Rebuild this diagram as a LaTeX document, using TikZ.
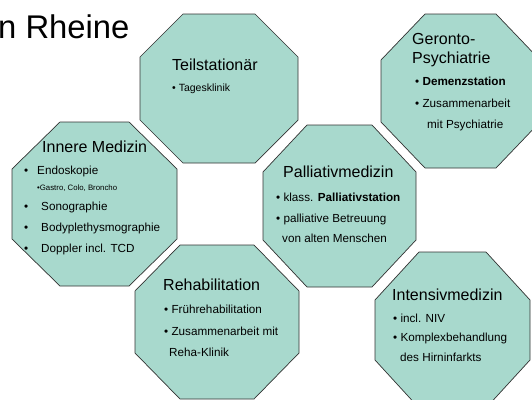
\documentclass[tikz,border=0pt]{standalone}
\usepackage{fontspec}
\setmainfont{Liberation Sans}
\usepackage{tikz}

\definecolor{octfill}{RGB}{168,217,205}
\definecolor{octline}{RGB}{50,50,50}

% octagon: x1, y1, x2, y2, chamfer x, chamfer y
\newcommand{\octbox}[6]{%
  \draw[octa] ({#1},{#2+#6}) -- ({#1+#5},{#2}) -- ({#3-#5},{#2}) -- ({#3},{#2+#6})
    -- ({#3},{#4-#6}) -- ({#3-#5},{#4}) -- ({#1+#5},{#4}) -- ({#1},{#4-#6}) -- cycle;}

\begin{document}
\begin{tikzpicture}[x=1pt,y=-1pt,
  octa/.style={fill=octfill,draw=octline,line width=0.7pt},
  every node/.style={inner sep=0pt,anchor=base west},
  title/.style={font=\fontsize{32.8}{36}\selectfont},
  head/.style={font=\fontsize{16}{19}\selectfont},
  item/.style={font=\fontsize{11.7}{14}\selectfont},
  smallitem/.style={font=\fontsize{10.5}{12.5}\selectfont},
  tinyitem/.style={font=\fontsize{7.8}{9.5}\selectfont}]
  \useasboundingbox (0,0) rectangle (532,399);
  \clip (0,0) rectangle (532,399);

  \node[title] (title) at (-2,38) {n Rheine};

  \octbox{140}{14}{298}{163}{43}{43}
  \octbox{381}{14}{540}{168}{44}{46}
  \octbox{12}{122}{177}{286}{48}{47}
  \octbox{263}{125}{416}{287}{44}{47}
  \octbox{135}{245}{299}{399}{45}{46}
  \octbox{375}{252}{530}{408}{44}{48}

  % Teilstationaer
  \node[head] (teilHead) at (172,70) {Teilstationär};
  \node[smallitem] (teilA) at (172,91) {• Tagesklinik};

  % Geronto-Psychiatrie
  \node[head] (geroHead) at (412,44) {Geronto-};
  \node[head] (geroHeadB) at (412,63) {Psychiatrie};
  \node[item] (geroA) at (415,85) {• \textbf{Demenzstation}};
  \node[item] (geroB) at (415,107) {• Zusammenarbeit};
  \node[item] (geroC) at (427,128) {mit Psychiatrie};

  % Innere Medizin
  \node[head] (innHead) at (42,152) {Innere Medizin};
  \node[item] (innDotA) at (24,174) {•};
  \node[item] (innA) at (37,174) {Endoskopie};
  \node[tinyitem] (innB) at (37,190) {•Gastro, Colo, Broncho};
  \node[item] (innDotC) at (24,210) {•};
  \node[item] (innC) at (41,210) {Sonographie};
  \node[item] (innDotD) at (24,231) {•};
  \node[item] (innD) at (41,231) {Bodyplethysmographie};
  \node[item] (innDotE) at (24,252) {•};
  \node[item] (innE) at (41,252) {Doppler incl. TCD};

  % Palliativmedizin
  \node[head] (palHead) at (283,177) {Palliativmedizin};
  \node[item] (palA) at (276,201) {• klass. \textbf{Palliativstation}};
  \node[item] (palB) at (276,222) {• palliative Betreuung};
  \node[item] (palC) at (282,242) {von alten Menschen};

  % Rehabilitation
  \node[head] (rehaHead) at (163,290) {Rehabilitation};
  \node[item] (rehaA) at (164,313) {• Frührehabilitation};
  \node[item] (rehaB) at (164,335) {• Zusammenarbeit mit};
  \node[item] (rehaC) at (169,356) {Reha-Klinik};

  % Intensivmedizin
  \node[head] (intHead) at (392,300) {Intensivmedizin};
  \node[item] (intA) at (393,322) {• incl. NIV};
  \node[item] (intB) at (393,341) {• Komplexbehandlung};
  \node[item] (intC) at (400,361) {des Hirninfarkts};
\end{tikzpicture}
\end{document}
